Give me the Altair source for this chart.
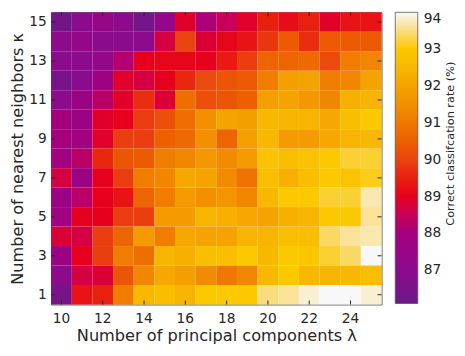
import altair as alt
import pandas as pd

# principal components (x) and nearest neighbours (y)
components = list(range(10, 26))
neighbors_desc = list(range(15, 0, -1))
x_tick_vals = [10, 12, 14, 16, 18, 20, 22, 24]
y_tick_vals = [1, 3, 5, 7, 9, 11, 13, 15]
legend_vals = [87, 88, 89, 90, 91, 92, 93, 94]
legend_title = "Correct classifcation rate (%)"

# correct classification rate (%) per row (k), columns lambda = 10..25
rate_k15 = [86.3, 87.0, 87.4, 87.0, 86.4, 87.3, 88.9, 88.1, 88.5, 88.9, 89.5, 89.2, 89.5, 88.9, 89.3, 89.3]
rate_k14 = [87.0, 87.3, 87.0, 87.0, 87.0, 88.7, 90.0, 88.8, 89.1, 89.3, 89.8, 90.4, 89.7, 90.4, 90.4, 90.4]
rate_k13 = [87.0, 87.0, 87.3, 88.2, 89.0, 89.1, 89.1, 89.0, 89.4, 89.9, 90.6, 90.6, 90.7, 90.1, 91.1, 91.3]
rate_k12 = [86.5, 86.9, 87.8, 88.9, 88.7, 89.0, 89.6, 90.1, 90.3, 90.4, 91.1, 91.9, 92.0, 91.1, 91.3, 92.0]
rate_k11 = [87.0, 87.6, 88.3, 88.9, 89.7, 88.8, 90.8, 90.2, 90.3, 90.5, 91.9, 92.0, 91.7, 91.3, 92.3, 92.4]
rate_k10 = [88.0, 87.6, 88.9, 89.0, 89.9, 90.2, 90.8, 91.5, 92.0, 91.9, 92.5, 92.4, 92.4, 92.1, 92.7, 93.0]
rate_k9 = [88.0, 87.9, 88.9, 89.9, 89.9, 90.5, 90.7, 91.5, 90.6, 91.9, 92.5, 91.8, 91.8, 92.1, 92.4, 92.5]
rate_k8 = [87.9, 88.3, 89.6, 90.3, 90.4, 91.1, 91.3, 91.7, 91.4, 91.8, 92.8, 92.7, 92.8, 93.0, 93.2, 93.2]
rate_k7 = [88.7, 87.6, 89.0, 89.9, 91.1, 91.3, 92.1, 92.0, 91.4, 90.9, 92.7, 92.3, 92.7, 93.0, 92.8, 93.1]
rate_k6 = [87.6, 88.3, 89.0, 89.3, 90.6, 91.1, 91.8, 91.5, 91.6, 91.3, 92.5, 93.0, 93.0, 93.2, 93.2, 93.7]
rate_k5 = [87.9, 89.0, 89.0, 89.9, 89.9, 91.8, 91.8, 92.4, 92.3, 92.1, 92.0, 92.3, 92.4, 93.0, 93.0, 93.6]
rate_k4 = [88.8, 88.7, 89.9, 90.6, 91.8, 91.1, 92.1, 92.0, 92.0, 92.4, 92.4, 92.7, 92.7, 93.4, 93.6, 93.7]
rate_k3 = [87.6, 89.0, 89.9, 91.1, 90.8, 92.4, 92.3, 92.7, 92.7, 93.0, 92.5, 93.0, 92.9, 93.2, 93.4, 94.0]
rate_k2 = [87.0, 88.7, 88.8, 90.3, 91.3, 92.1, 91.9, 91.4, 91.0, 91.3, 92.5, 93.0, 92.5, 92.4, 92.5, 92.7]
rate_k1 = [86.5, 89.3, 89.5, 91.1, 92.5, 92.7, 92.4, 93.0, 93.0, 93.0, 93.5, 93.6, 93.85, 94.0, 94.0, 93.85]

rows = {15: rate_k15, 14: rate_k14, 13: rate_k13, 12: rate_k12, 11: rate_k11,
        10: rate_k10, 9: rate_k9, 8: rate_k8, 7: rate_k7, 6: rate_k6,
        5: rate_k5, 4: rate_k4, 3: rate_k3, 2: rate_k2, 1: rate_k1}

records = []
for k, vals in rows.items():
    for lam, v in zip(components, vals):
        records.append({"x": lam, "y": k, "rate": v})
df = pd.DataFrame(records)

# colormap stops
cmap_stops = [86.1, 87.0, 88.0, 88.5, 89.0, 89.5, 90.0, 90.5, 91.0, 91.5, 92.0, 92.5, 93.0, 93.5, 94.0]
cmap_colors = ["#6a1a86", "#8c0a8c", "#a4007e", "#c8005a", "#e6001e", "#e8200e", "#ea4410",
               "#ec6000", "#ef7800", "#f29000", "#f5a300", "#f8b800", "#fcc800", "#fadc80", "#f8f8f8"]

W, H = 337, 298
TXT = "#262626"

xscale = alt.Scale(domain=components, paddingInner=0, paddingOuter=0)
yscale = alt.Scale(domain=neighbors_desc, paddingInner=0, paddingOuter=0)

heat = alt.Chart(df).mark_rect().encode(
    x=alt.X("x:O", scale=xscale,
            axis=alt.Axis(values=x_tick_vals, title="Number of principal components λ",
                          labelAngle=0, ticks=False, domain=False, labelPadding=7,
                          titlePadding=3)),
    y=alt.Y("y:O", scale=yscale,
            axis=alt.Axis(values=y_tick_vals, title="Number of nearest neighbors κ",
                          ticks=False, domain=False, labelPadding=5, titlePadding=3)),
    color=alt.Color("rate:Q",
                    scale=alt.Scale(domain=cmap_stops, range=cmap_colors, interpolate="rgb"),
                    legend=alt.Legend(type="gradient", values=legend_vals, title=None,
                                      gradientLength=H - 1, gradientThickness=23,
                                      direction="vertical", orient="right", offset=14,
                                      labelFontSize=14, labelColor=TXT, labelOffset=6,
                                      gradientStrokeColor="#555555", gradientStrokeWidth=0.8)),
)

xt = pd.DataFrame({"x": x_tick_vals})
yt = pd.DataFrame({"y": y_tick_vals})
tick_len = 4
bottom_ticks = alt.Chart(xt).mark_rule(color=TXT, strokeWidth=1).encode(
    x=alt.X("x:O", scale=xscale), y=alt.value(H - tick_len), y2=alt.value(H))
top_ticks = alt.Chart(xt).mark_rule(color=TXT, strokeWidth=1).encode(
    x=alt.X("x:O", scale=xscale), y=alt.value(0), y2=alt.value(tick_len))
left_ticks = alt.Chart(yt).mark_rule(color=TXT, strokeWidth=1).encode(
    y=alt.Y("y:O", scale=yscale), x=alt.value(0), x2=alt.value(tick_len))
right_ticks = alt.Chart(yt).mark_rule(color=TXT, strokeWidth=1).encode(
    y=alt.Y("y:O", scale=yscale), x=alt.value(W - tick_len), x2=alt.value(W))

title_txt = alt.Chart(pd.DataFrame({"t": [legend_title]})).mark_text(
    angle=270, font="DejaVu Sans", fontSize=11.5, color=TXT, baseline="middle", align="center"
).encode(text="t:N", x=alt.value(W + 71), y=alt.value(134))

chart = alt.layer(heat, bottom_ticks, top_ticks, left_ticks, right_ticks, title_txt).properties(
    width=W, height=H, padding={"left": 2, "top": 0, "right": 0, "bottom": 0}
).configure_view(stroke="#555555", strokeWidth=1).configure_axis(
    labelFont="DejaVu Sans", titleFont="DejaVu Sans", labelFontSize=14, titleFontSize=16.5,
    labelColor=TXT, titleColor=TXT, titleFontWeight="normal", grid=False
).configure_legend(labelFont="DejaVu Sans")

chart.save("out.html", embed_options={"renderer": "svg", "actions": False})
